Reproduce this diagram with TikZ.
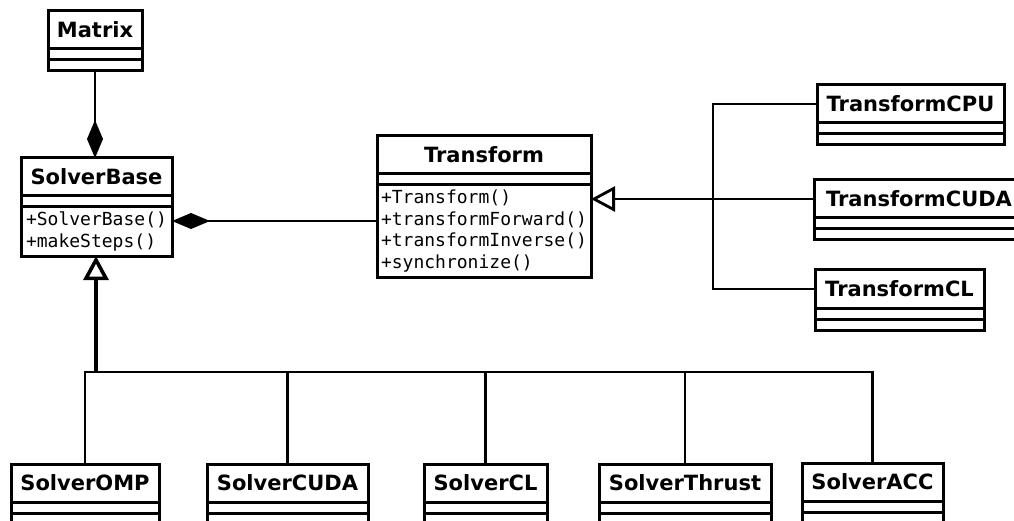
\documentclass[tikz,border=0pt]{standalone}
\usepackage{fontspec}
\setmainfont{DejaVu Sans}
\setmonofont{DejaVu Sans Mono}
\usepackage{tikz}
\usetikzlibrary{arrows.meta}

% 类框: 名称, 左上角, 宽度, 类名, 方法
\newcommand{\umlclass}[5]{%
    \node[classtitle, minimum width=#3] (#1) at (#2) {#4};
    \node[classattr, minimum width=#3] (#1-a) at (#1.south west) {};
    \node[classops, minimum width=#3] (#1-o) at (#1-a.south west) {#5};
}

\begin{document}
\begin{tikzpicture}[x=1pt, y=-1pt,
    classbox/.style={draw, line width=3pt, anchor=north west, inner sep=0pt, outer sep=0pt},
    classtitle/.style={classbox, minimum height=38pt, font=\fontsize{21}{25}\selectfont\bfseries},
    classattr/.style={classbox, minimum height=11pt},
    classops/.style={classbox, minimum height=11pt, inner xsep=3pt, inner ysep=5pt,
        align=left, font=\fontsize{18}{21.6}\selectfont\ttfamily},
    link/.style={line width=2.8pt},
    compose/.style={link, -{Diamond[length=38pt, width=16pt]}},
    inherit/.style={link, -{Triangle[open, length=24pt, width=25pt]}}]
    \useasboundingbox (0,0) rectangle (1014,521);
    \clip (0,0) rectangle (1014,521);

    \umlclass{matrix}{48,11}{94pt}{Matrix}{}
    \umlclass{solverbase}{21,158}{151pt}{SolverBase}{+SolverBase()\\+makeSteps()}
    \umlclass{transform}{377,136}{214pt}{Transform}{+Transform()\\+transformForward()\\+transformInverse()\\+synchronize()}

    \umlclass{transformcpu}{817,85}{187pt}{TransformCPU}{}
    \umlclass{transformcuda}{814,180}{210pt}{TransformCUDA}{}
    \umlclass{transformcl}{815,270}{169pt}{TransformCL}{}

    \umlclass{solveromp}{11,464}{148pt}{SolverOMP}{}
    \umlclass{solvercuda}{207,464}{161pt}{SolverCUDA}{}
    \umlclass{solvercl}{424,464}{123pt}{SolverCL}{}
    \umlclass{solverthrust}{599,464}{172pt}{SolverThrust}{}
    \umlclass{solveracc}{802,463}{141pt}{SolverACC}{}

    % 组合
    \draw[compose] (matrix-o.south) -- (matrix-o.south |- solverbase.north);
    \coordinate (sbport) at (172,221);
    \draw[compose] (transform-o.west |- sbport) -- (sbport);

    % Transform 的子类
    \coordinate (tbar) at (713,199);
    \draw[inherit] (transformcuda.west) -- (transform-o.east |- transformcuda.west);
    \draw[link] (transformcpu.west) -| (tbar) |- (transformcl.west);

    % Solver 的子类
    \coordinate (sbar) at (96,372);
    \draw[inherit, line width=3.6pt] (sbar) -- (solverbase-o.south -| sbar);
    \draw[link] (solveromp.north) |- (solveracc.north |- sbar) -- (solveracc.north);
    \foreach \n in {solvercuda,solvercl,solverthrust}
        \draw[link] (\n.north) -- (\n.north |- sbar);
\end{tikzpicture}
\end{document}
